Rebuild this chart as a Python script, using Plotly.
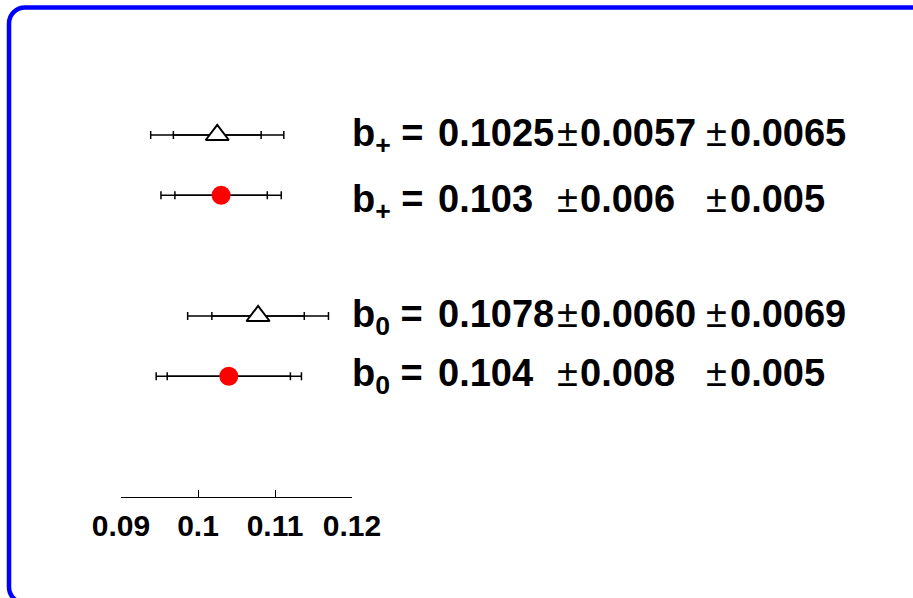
import math
import plotly.graph_objects as go

# ---- measurements: central value, statistical and systematic errors ----
labels = ["b<sub>+</sub> =", "b<sub>+</sub> =", "b<sub>0</sub> =", "b<sub>0</sub> ="]
central_txt = ["0.1025", "0.103", "0.1078", "0.104"]
stat_txt = ["0.0057", "0.006", "0.0060", "0.008"]
syst_txt = ["0.0065", "0.005", "0.0069", "0.005"]
marker_kind = ["open-triangle", "dot", "open-triangle", "dot"]

tick_vals = [0.09, 0.10, 0.11, 0.12]
tick_text = ["0.09", "0.1", "0.11", "0.12"]

central = [float(s) for s in central_txt]
stat = [float(s) for s in stat_txt]
syst = [float(s) for s in syst_txt]
total = [math.hypot(a, b) for a, b in zip(stat, syst)]

# ---- layout geometry (pixels) ----
W, H = 913, 598
row_slot = [0, 1, 3, 4]          # vertical slot of each measurement
axis_slot = 6                    # slot where the x axis sits
x_left_px, x_right_px = 121, 352  # pixel extent of the axis
axis_y_px = 497
first_row_px = 135
slot_px = (axis_y_px - first_row_px) / axis_slot
y_top_slot = -first_row_px / slot_px

FONT = "Liberation Sans, Arial, Helvetica, sans-serif"
TXT = 38
text_baseline_px = [146, 212, 327.3, 386.7]
col_label, col_value, col_pm1, col_stat, col_pm2, col_syst = 351, 437, 567, 578.5, 716.3, 729


def px(x):
    return x / W


def py(y):
    return 1 - y / H


fig = go.Figure()

for i in range(len(central)):
    # total (stat (+) syst) error bar, outer ticks
    fig.add_trace(go.Scatter(
        x=[central[i]], y=[row_slot[i]], mode="markers",
        marker=dict(size=2, opacity=0),
        error_x=dict(type="data", array=[total[i]], symmetric=True,
                     color="black", thickness=1.5, width=4),
        showlegend=False, hoverinfo="skip"))
    # statistical error bar with the marker
    if marker_kind[i] == "dot":
        mk = dict(symbol="circle", size=19, color="#ff0000", line=dict(width=0))
    else:
        mk = dict(symbol="triangle-up", size=20, color="white",
                  line=dict(color="black", width=2))
    fig.add_trace(go.Scatter(
        x=[central[i]], y=[row_slot[i]], mode="markers", marker=mk,
        error_x=dict(type="data", array=[stat[i]], symmetric=True,
                     color="black", thickness=1.5, width=4),
        showlegend=False, hoverinfo="skip"))

annotations = []


def add_text(x_px, base_px, text, weight="bold", xanchor="left", size=TXT):
    top = base_px - 0.905 * size - 1
    annotations.append(dict(
        x=px(x_px), y=py(top), xref="paper", yref="paper",
        xanchor=xanchor, yanchor="top", showarrow=False, text=text,
        borderpad=0,
        font=dict(family=FONT, size=size, color="black", weight=weight)))


for i in range(len(central)):
    b = text_baseline_px[i]
    add_text(col_label, b, labels[i])
    add_text(col_value, b, central_txt[i])
    add_text(col_pm1, b, "±", weight="normal", xanchor="center")
    add_text(col_stat, b, stat_txt[i])
    add_text(col_pm2, b, "±", weight="normal", xanchor="center")
    add_text(col_syst, b, syst_txt[i])

# rounded blue frame
x0, y0, x1, y1, r = 9, 7.5, 928, 603, 16
k = 0.5523 * r
frame = (
    f"M {px(x0)},{py(y0 + r)} "
    f"C {px(x0)},{py(y0 + r - k)} {px(x0 + r - k)},{py(y0)} {px(x0 + r)},{py(y0)} "
    f"L {px(x1 - r)},{py(y0)} "
    f"C {px(x1 - r + k)},{py(y0)} {px(x1)},{py(y0 + r - k)} {px(x1)},{py(y0 + r)} "
    f"L {px(x1)},{py(y1 - r)} "
    f"C {px(x1)},{py(y1 - r + k)} {px(x1 - r + k)},{py(y1)} {px(x1 - r)},{py(y1)} "
    f"L {px(x0 + r)},{py(y1)} "
    f"C {px(x0 + r - k)},{py(y1)} {px(x0)},{py(y1 - r + k)} {px(x0)},{py(y1 - r)} Z"
)

fig.update_layout(
    width=W, height=H,
    margin=dict(l=0, r=0, t=0, b=0, pad=0, autoexpand=False),
    paper_bgcolor="white", plot_bgcolor="white",
    showlegend=False,
    annotations=annotations,
    shapes=[dict(type="path", path=frame, xref="paper", yref="paper",
                 line=dict(color="#0000ff", width=4.5), layer="above")],
    xaxis=dict(
        domain=[px(x_left_px), px(x_right_px)],
        range=[tick_vals[0], tick_vals[-1]],
        tickvals=tick_vals, ticktext=tick_text,
        ticks="inside", ticklen=7, tickwidth=1, tickcolor="black",
        showline=True, linecolor="black", linewidth=1.2,
        showgrid=False, zeroline=False,
        ticklabelstandoff=2,
        automargin=False,
        tickfont=dict(family=FONT, size=30, color="black", weight="bold"),
        anchor="y",
    ),
    yaxis=dict(
        domain=[py(axis_y_px), 1],
        range=[axis_slot, y_top_slot],
        visible=False, showgrid=False, zeroline=False, automargin=False,
    ),
)

fig.write_html("out.html")
